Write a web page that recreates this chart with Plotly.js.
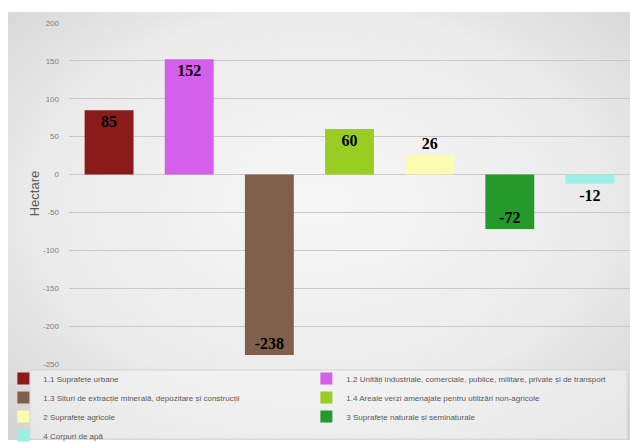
<!DOCTYPE html>
<html>
<head>
<meta charset="utf-8">
<script src="https://cdn.plot.ly/plotly-3.0.1.min.js"></script>
<style>html,body{margin:0;padding:0;background:#fff;}#chart{width:630px;height:443px;}</style>
</head>
<body>
<div id="chart"></div>
<script>
const categories = [
  "1.1 Suprafețe urbane",
  "1.2 Unități industriale, comerciale, publice, militare, private și de transport",
  "1.3 Situri de extracție minerală, depozitare și construcții",
  "1.4 Areale verzi amenajate pentru utilizări non-agricole",
  "2 Suprafețe agricole",
  "3 Suprafețe naturale și seminaturale",
  "4 Corpuri de apă"
];
const values = [85, 152, -238, 60, 26, -72, -12];
const colors = ["#8b1b1b", "#d45fea", "#80604d", "#9acd22", "#fbfbb2", "#259a2a", "#9cefe4"];
const yTicks = [-250, -200, -150, -100, -50, 0, 50, 100, 150, 200];

const labelFont = {family: "Liberation Serif, Times New Roman, serif", size: 16, color: "#000"};
const traces = categories.map((c, i) => ({
  type: "bar",
  name: c,
  x: [c],
  y: [values[i]],
  marker: {color: colors[i]},
  width: 0.61,
  text: [String(values[i])],
  texttemplate: "<b>%{text}</b>",
  textposition: "auto",
  insidetextanchor: "end",
  textangle: 0,
  constraintext: "none",
  insidetextfont: labelFont,
  outsidetextfont: labelFont,
  cliponaxis: false,
  hoverinfo: "skip"
}));

const bgSvg = '<svg xmlns="http://www.w3.org/2000/svg" width="622" height="428" preserveAspectRatio="none">' +
  '<defs><radialGradient id="g" cx="50%" cy="45%" r="75%">' +
  '<stop offset="0" stop-color="#f7f7f7"/><stop offset="0.6" stop-color="#ebebeb"/><stop offset="1" stop-color="#d2d2d2"/>' +
  '</radialGradient></defs><rect width="622" height="428" fill="url(#g)"/></svg>';
const bgUri = "data:image/svg+xml;base64," + btoa(bgSvg);

const layout = {
  width: 630, height: 443,
  margin: {l: 69, r: 0, t: 23, b: 79, autoexpand: false},
  paper_bgcolor: "#ffffff",
  plot_bgcolor: "rgba(0,0,0,0)",
  barmode: "overlay",
  showlegend: true,
  images: [{
    source: bgUri, xref: "paper", yref: "paper",
    x: -0.1087, y: 1.032, sizex: 1.1087, sizey: 1.255,
    xanchor: "left", yanchor: "top", sizing: "stretch", layer: "below"
  }],
  shapes: [{
    type: "rect", xref: "paper", yref: "paper",
    x0: -0.0695, x1: 0.995, y0: -0.0176, y1: -0.22,
    line: {color: "#d6d6d6", width: 1}, fillcolor: "rgba(245,245,245,0.55)", layer: "below"
  }],
  xaxis: {
    type: "category", categoryarray: categories,
    showticklabels: false, showgrid: false, zeroline: false, showline: false, ticks: "",
    range: [-0.5, 6.5]
  },
  yaxis: {
    range: [-250, 200], tickvals: yTicks, ticktext: yTicks.map(String),
    showgrid: true, gridcolor: "#c9c9c9", gridwidth: 1,
    zeroline: true, zerolinecolor: "#c9c9c9", zerolinewidth: 1,
    showline: false, ticks: "",
    tickfont: {family: "Liberation Sans, Arial, sans-serif", size: 8, color: "#7f7f7f"},
    ticklabelstandoff: 9,
    automargin: false,
    title: {text: "Hectare", font: {family: "Liberation Sans, Arial, sans-serif", size: 13, color: "#595959"}, standoff: 0}
  },
  legend: {
    orientation: "h",
    x: -0.117, y: -0.0001, xanchor: "left", yanchor: "top",
    entrywidth: 258, entrywidthmode: "pixels",
    itemwidth: 30,
    bgcolor: "rgba(0,0,0,0)", borderwidth: 0,
    font: {family: "Liberation Sans, Arial, sans-serif", size: 8, color: "#595959"},
    traceorder: "normal"
  }
};

Plotly.newPlot("chart", traces, layout, {displayModeBar: false, staticPlot: true});
</script>
</body>
</html>
